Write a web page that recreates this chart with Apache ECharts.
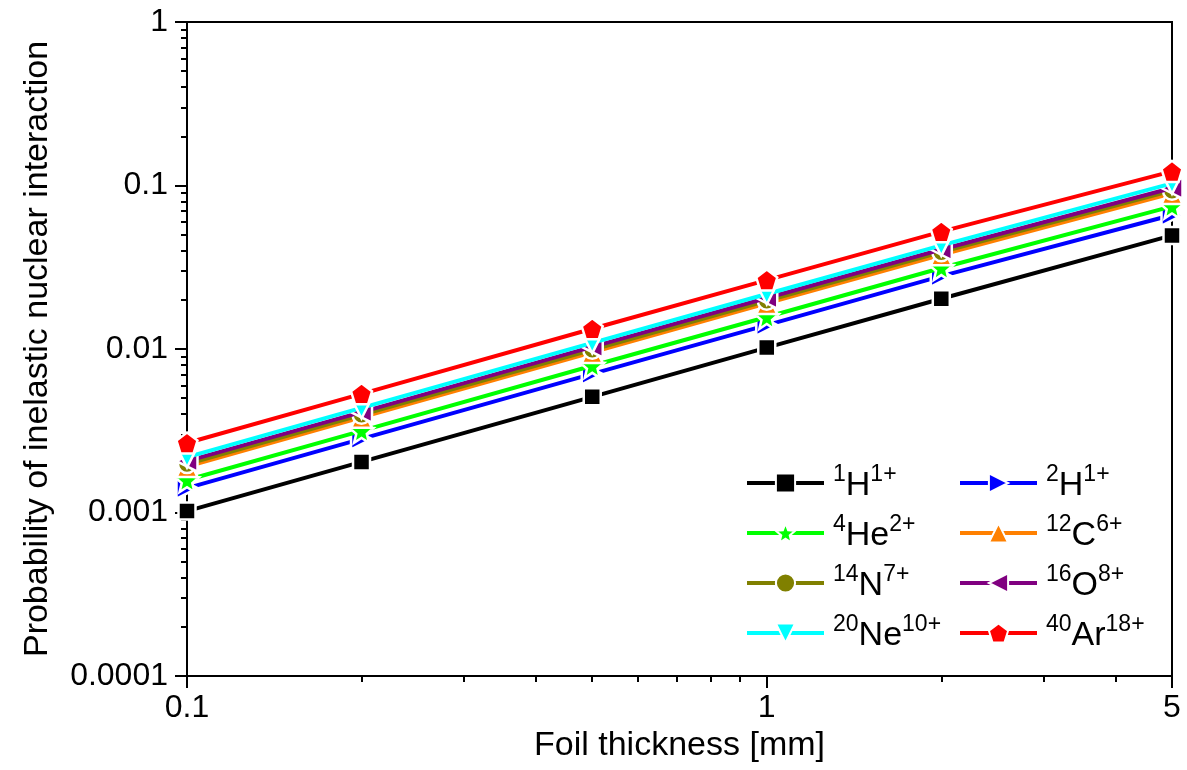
<!DOCTYPE html>
<html>
<head>
<meta charset="utf-8">
<title>Inelastic nuclear interaction probability vs foil thickness</title>
<script src="https://cdn.jsdelivr.net/npm/echarts@6/dist/echarts.min.js"></script>
<style>
  html, body { margin: 0; padding: 0; background: #fff; }
  #chart { width: 1187px; height: 770px; }
</style>
</head>
<body>
<div id="chart"></div>
<script>
// Foil thickness in mm
const thickness = [0.1, 0.2, 0.5, 1, 2, 5];

// Probability of an inelastic nuclear interaction, one array per ion
const pH1  = [0.00102, 0.00204, 0.0051, 0.0102, 0.0203, 0.0495];
const pH2  = [0.00141, 0.00282, 0.00704, 0.0140, 0.0279, 0.0660];
const pHe4 = [0.00158, 0.00316, 0.0079, 0.0157, 0.0313, 0.0745];
const pC12 = [0.00191, 0.00382, 0.00953, 0.0190, 0.0377, 0.0895];
const pN14 = [0.00198, 0.00396, 0.0099, 0.0197, 0.0391, 0.0930];
const pO16 = [0.00206, 0.00411, 0.0103, 0.0205, 0.0406, 0.0965];
const pNe20 = [0.00218, 0.00436, 0.0109, 0.0217, 0.0430, 0.1030];
const pAr40 = [0.00266, 0.00532, 0.0133, 0.0264, 0.0522, 0.1220];

// Ion labels: mass number, element, charge state
const ionMass    = ['1', '2', '4', '12', '14', '16', '20', '40'];
const ionElement = ['H', 'H', 'He', 'C', 'N', 'O', 'Ne', 'Ar'];
const ionCharge  = ['1+', '1+', '2+', '6+', '7+', '8+', '10+', '18+'];
const ionValues  = [pH1, pH2, pHe4, pC12, pN14, pO16, pNe20, pAr40];

// Axis tick labels
const xTickLabels = [0.1, 1, 5];
const yTickLabels = [0.0001, 0.001, 0.01, 0.1, 1];

const ionColors = ['#000000', '#0000FF', '#00FF00', '#FF8000', '#808000', '#800080', '#00FFFF', '#FF0000'];
const STAR = 'path://M50,0 L62.93,32.2 L97.55,34.55 L70.92,56.8 L79.39,90.45 L50,72 L20.61,90.45 L29.08,56.8 L2.45,34.55 L37.07,32.2 Z';
const PENTAGON = 'path://M50,0 L100,36.3 L80.9,95.1 L19.1,95.1 L0,36.3 Z';
const ionSymbols = ['rect', 'triangle', STAR, 'triangle', 'circle', 'triangle', 'triangle', PENTAGON];
const ionRotate  = [0, -90, 0, 0, 0, 90, 180, 0];
const ionSize    = [17, 21, 24, 21, 18, 21, 21, 21];

const FONT = '"Liberation Sans", Arial, sans-serif';

// Minor log ticks (2..9 within each decade) inside an axis range
function minorLogTicks(lo, hi) {
  const out = [];
  for (let e = Math.floor(Math.log10(lo)); e <= Math.ceil(Math.log10(hi)); e++) {
    for (let m = 2; m <= 9; m++) {
      const v = +(m * Math.pow(10, e)).toPrecision(6);
      if (v > lo && v < hi && !xTickLabels.includes(v)) out.push(v);
    }
  }
  return out;
}

const names = ionMass.map((m, i) => m + ionElement[i] + ionCharge[i]);
const nameIndex = {};
names.forEach((n, i) => { nameIndex[n] = i; });

const series = names.map((name, i) => ({
  name,
  type: 'line',
  data: thickness.map((t, j) => [t, ionValues[i][j]]),
  symbol: ionSymbols[i],
  symbolSize: ionSize[i],
  symbolRotate: ionRotate[i],
  showAllSymbol: true,
  color: ionColors[i],
  itemStyle: { color: ionColors[i], borderColor: '#ffffff', borderWidth: 2.5 },
  lineStyle: { color: ionColors[i], width: 4 },
  emphasis: { disabled: true },
  xAxisIndex: 0,
  yAxisIndex: 0,
  z: 2 + i
}));

const richText = {
  sup: { fontSize: 23, fontFamily: FONT, color: '#000', verticalAlign: 'top', lineHeight: 23 },
  el:  { fontSize: 34, fontFamily: FONT, color: '#000', lineHeight: 40, verticalAlign: 'bottom' },
  g:   { width: 4 }
};

function legendText(name) {
  const i = nameIndex[name];
  return '{g|}{sup|' + ionMass[i] + '}{el|' + ionElement[i] + '}{sup|' + ionCharge[i] + '}';
}

function makeLegend(left, list) {
  return {
    orient: 'vertical',
    left: left,
    top: 463,
    itemWidth: 77,
    itemHeight: 24,
    itemGap: 10,
    padding: 0,
    data: list,
    selectedMode: false,
    formatter: legendText,
    lineStyle: { width: 4 },
    textStyle: { fontFamily: FONT, color: '#000', rich: richText }
  };
}

const fmt = v => String(+(+v).toPrecision(6));

const option = {
  animation: false,
  backgroundColor: '#ffffff',
  grid: {
    left: 187, right: 15, top: 22, bottom: 94,
    show: true, borderColor: '#000', borderWidth: 2,
    containLabel: false, outerBoundsMode: 'none'
  },
  legend: [
    makeLegend(745, [names[0], names[2], names[4], names[6]]),
    makeLegend(958, [names[1], names[3], names[5], names[7]])
  ],
  xAxis: [
    {
      type: 'log', logBase: 10, min: 0.1, max: 5, position: 'bottom',
      name: 'Foil thickness [mm]', nameLocation: 'middle', nameGap: 52,
      nameTextStyle: { fontFamily: FONT, fontSize: 34, color: '#000' },
      axisLine: { show: true, onZero: false, lineStyle: { color: '#000', width: 2 } },
      axisTick: { show: true, inside: false, length: 12, customValues: xTickLabels, lineStyle: { color: '#000', width: 2 } },
      axisLabel: { customValues: xTickLabels, formatter: fmt, fontFamily: FONT, fontSize: 32, color: '#000', margin: 16 },
      splitLine: { show: false },
      minorTick: { show: false }
    },
    {
      type: 'log', logBase: 10, min: 0.1, max: 5, position: 'bottom',
      axisLine: { show: false, onZero: false },
      axisTick: { show: true, inside: false, length: 6, customValues: minorLogTicks(0.1, 5), lineStyle: { color: '#000', width: 2 } },
      axisLabel: { show: false },
      splitLine: { show: false }
    }
  ],
  yAxis: [
    {
      type: 'log', logBase: 10, min: 0.0001, max: 1, position: 'left',
      name: 'Probability of inelastic nuclear interaction', nameLocation: 'middle', nameGap: 132,
      nameTextStyle: { fontFamily: FONT, fontSize: 34, color: '#000' },
      axisLine: { show: true, onZero: false, lineStyle: { color: '#000', width: 2 } },
      axisTick: { show: true, inside: false, length: 12, customValues: yTickLabels, lineStyle: { color: '#000', width: 2 } },
      axisLabel: { customValues: yTickLabels, formatter: fmt, fontFamily: FONT, fontSize: 32, color: '#000', margin: 19 },
      splitLine: { show: false }
    },
    {
      type: 'log', logBase: 10, min: 0.0001, max: 1, position: 'left',
      axisLine: { show: false, onZero: false },
      axisTick: { show: true, inside: false, length: 6, customValues: minorLogTicks(0.0001, 1), lineStyle: { color: '#000', width: 2 } },
      axisLabel: { show: false },
      splitLine: { show: false }
    }
  ],
  series
};

const chart = echarts.init(document.getElementById('chart'), null, { renderer: 'canvas' });
chart.setOption(option);
</script>
</body>
</html>
